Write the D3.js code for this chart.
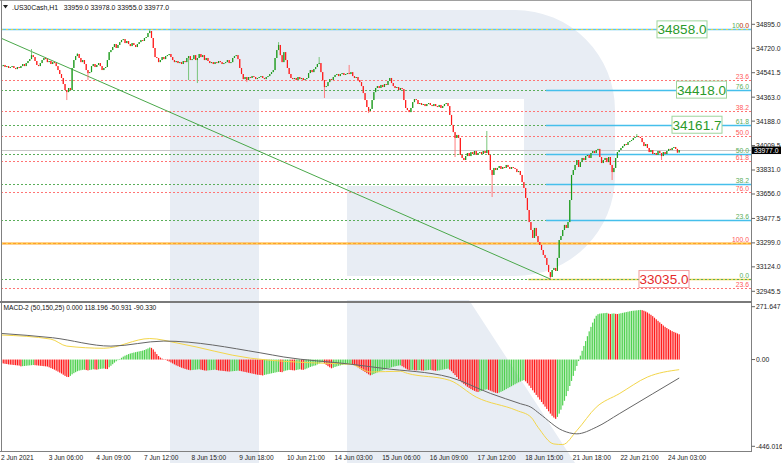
<!DOCTYPE html>
<html><head><meta charset="utf-8">
<script src="https://cdn.jsdelivr.net/npm/d3@7"></script>
<style>
html,body{margin:0;padding:0;background:#fff;}
svg{display:block;font-family:"Liberation Sans",Arial,sans-serif;}
</style></head><body>
<svg id="c" width="782" height="463"></svg>
<script>
// ---------------- DATA ----------------
const symbolTitle = ".US30Cash,H1   33959.0 33978.0 33955.0 33977.0";
const macdTitle = "MACD-2 (50,150,25) 0.000 118.196 -50.931 -90.330";
const timeLabels = ["2 Jun 2021","3 Jun 06:00","4 Jun 09:00","7 Jun 12:00","8 Jun 15:00","9 Jun 18:00",
  "10 Jun 21:00","14 Jun 03:00","15 Jun 06:00","16 Jun 09:00","17 Jun 12:00","18 Jun 15:00",
  "21 Jun 18:00","22 Jun 21:00","24 Jun 03:00"];
const barsPerLabel = 27;
const priceTicks = [34895.0,34720.0,34541.5,34363.0,34188.0,34009.5,33831.0,33656.0,33477.5,33299.0,33124.0,32945.5];
const priceRange = [32945.5, 34895.0];
const macdRange = [-446.016, 271.647];
const macdTickVals = [271.647, 0, -446.016];
const macdTickText = ["271.647", "0.00", "-446.016"];
const currentPrice = 33977.0;

const firstOpen = 34583;
const closes = [
34590,34598,34583,34590,34576,34583,34590,34576,34568,34583,
34576,34590,34605,34590,34612,34627,34641,34670,34656,34627,
34598,34590,34612,34634,34649,34641,34619,34627,34605,34619,
34612,34590,34561,34532,34503,34459,34415,34400,34430,34415,
34576,34634,34663,34678,34649,34619,34634,34605,34561,34539,
34546,34590,34605,34583,34598,34612,34590,34561,34576,34583,
34634,34692,34707,34729,34751,34722,34744,34765,34780,34787,
34758,34773,34751,34736,34758,34744,34729,34751,34765,34780,
34773,34795,34802,34831,34846,34795,34722,34656,34649,34619,
34634,34656,34641,34663,34670,34678,34656,34634,34619,34627,
34612,34619,34605,34627,34619,34649,34663,34634,34641,34670,
34634,34649,34678,34656,34670,34634,34649,34627,34612,34619,
34605,34619,34612,34627,34619,34605,34612,34619,34634,34612,
34619,34649,34663,34670,34641,34576,34532,34495,34510,34488,
34510,34503,34517,34510,34495,34503,34510,34517,34503,34495,
34510,34517,34532,34546,34561,34649,34707,34744,34670,34619,
34692,34634,34576,34532,34503,34495,34503,34488,34510,34495,
34503,34488,34495,34503,34539,34561,34546,34568,34583,34605,
34612,34546,34488,34437,34444,34473,34495,34488,34510,34525,
34532,34517,34532,34539,34525,34532,34539,34532,34546,34517,
34503,34510,34488,34473,34444,34393,34342,34291,34262,34277,
34342,34400,34430,34444,34430,34452,34437,34459,34452,34481,
34503,34466,34444,34430,34437,34415,34430,34422,34342,34284,
34269,34254,34284,34327,34349,34342,34313,34320,34306,34313,
34298,34313,34320,34306,34298,34313,34298,34291,34306,34284,
34298,34313,34320,34298,34233,34160,34108,34065,34087,34065,
33941,33919,33904,33933,33955,33933,33962,33948,33970,33941,
33955,33962,33948,33970,33955,33977,33941,33831,33795,33846,
33831,33846,33860,33839,33853,33846,33868,33853,33839,33853,
33846,33839,33816,33824,33795,33743,33700,33627,33539,33451,
33393,33335,33408,33349,33305,33284,33247,33211,33189,33138,
33086,33050,33101,33116,33094,33189,33320,33349,33393,33430,
33408,33451,33612,33795,33831,33868,33904,33853,33889,33919,
33904,33933,33941,33919,33955,33970,33955,33977,33985,33926,
33882,33904,33919,33889,33926,33868,33816,33846,33919,33962,
33977,33992,34006,34021,34014,34035,34043,34050,34065,34072,
34079,34072,34065,34035,34006,34021,33992,33962,33977,33948,
33955,33941,33970,33955,33933,33962,33948,33970,33985,33977,
33992,33999,33985,33959,33977];
// spikes: [bar, high] and [bar, low]
const wickHighs = [[17,34714],[43,34685],[84,34858],[157,34765],[180,34656],[197,34598],[275,34116],[360,34094],[383,33978]];
const wickLows = [[37,34342],[49,34488],[106,34488],[111,34466],[139,34473],[183,34357],[208,34247],[257,33926],[278,33634],[311,33035],[346,33758],[374,33904],[383,33955]];

// Fibonacci grids
const redFibLabels = ["0.0","23.6","38.2","50.0","61.8","76.0","100.0","23.6"];
const redFibPrices = [34858,34490,34262,34079,33894,33673,33299,32967];
const greenFibLabels = ["0.0","23.6","38.2","50.0","61.8","76.0","100.0"];
const greenFibPrices = [33035,33465,33731,33946.5,34161.7,34418,34858];
const priceBoxes = [{text:"34858.0",price:34858,kind:"up"},{text:"34418.0",price:34418,kind:"up"},
  {text:"34161.7",price:34161.7,kind:"up"},{text:"33035.0",price:33035,kind:"down"}];
const trendLine = [{bar:-0.85,price:34797},{bar:311,price:33035}];

// MACD histogram (one value per bar)
const macdHist = [
-18,-20,-22,-23,-25,-26,-27,-28,-29,-30,
-31,-35,-34,-33,-32,-31,-30,-29,-28,-29,
-30,-31,-32,-33,-34,-35,-36,-40,-44,-48,
-52,-57,-62,-67,-72,-78,-84,-89,-90,-84,
-76,-70,-65,-60,-57,-55,-53,-52,-54,-56,
-54,-52,-50,-51,-52,-50,-48,-47,-46,-48,
-49,-40,-32,-24,-16,-9,-3,3,9,15,
20,24,28,31,34,36,38,40,42,44,
46,49,53,57,62,60,52,40,28,18,
10,5,2,-2,-6,-10,-15,-20,-25,-30,
-34,-38,-42,-45,-48,-51,-53,-55,-54,-53,
-52,-51,-50,-52,-54,-56,-57,-56,-55,-54,
-53,-52,-54,-56,-57,-58,-59,-60,-61,-62,
-61,-60,-59,-58,-57,-58,-60,-62,-64,-66,
-68,-70,-72,-74,-76,-78,-79,-80,-82,-79,
-77,-75,-73,-71,-69,-67,-65,-63,-64,-65,
-60,-57,-55,-53,-54,-55,-56,-54,-52,-50,
-52,-53,-50,-46,-42,-38,-35,-32,-30,-25,
-20,-16,-14,-20,-27,-34,-40,-45,-42,-38,
-35,-32,-30,-28,-26,-25,-24,-23,-22,-25,
-29,-34,-40,-46,-52,-58,-64,-70,-76,-81,
-78,-74,-70,-66,-62,-58,-55,-52,-49,-46,
-43,-40,-37,-35,-33,-31,-30,-34,-40,-46,
-51,-55,-54,-53,-55,-56,-55,-54,-56,-57,
-56,-55,-54,-53,-55,-57,-58,-57,-56,-54,
-52,-50,-48,-47,-52,-60,-70,-80,-90,-100,
-110,-118,-126,-133,-140,-146,-152,-157,-161,-165,
-167,-164,-161,-158,-155,-153,-156,-160,-164,-168,
-171,-173,-170,-166,-162,-157,-152,-147,-142,-137,
-132,-127,-122,-117,-113,-109,-106,-112,-122,-134,
-146,-158,-170,-182,-194,-206,-218,-230,-242,-254,
-266,-278,-289,-298,-305,-295,-278,-258,-236,-212,
-188,-162,-136,-110,-84,-58,-33,-8,20,45,
70,95,120,145,168,190,210,225,233,236,
237,238,239,240,236,234,236,237,235,234,
236,238,240,242,244,246,248,250,251,252,
253,254,255,254,251,247,242,236,230,223,
215,207,199,191,183,175,168,162,156,151,
146,142,138,134,130];
// MACD lines, sampled [bar, value]
const macdGrayLine = [[0,134],[29,112],[62,69],[92,95],[147,34],[160,13],[198,-24],[216,-45],[254,-91],
  [277,-174],[294,-227],[300,-245],[305,-279],[318,-365],[326,-382],[337,-348],[350,-279],[369,-176],[384,-95]];
const macdYellowLine = [[0,126],[28,105],[37,69],[58,58],[84,108],[100,84],[141,7],[160,-9],[179,-18],[198,-24],
  [209,-64],[226,-60],[230,-71],[254,-107],[269,-193],[292,-262],[300,-296],[304,-348],[313,-434],[318,-437],
  [326,-365],[337,-245],[350,-176],[366,-90],[384,-52]];

// ---------------- DRAW ----------------
const svg = d3.select("#c");
const n = closes.length;
const x = d3.scaleLinear().domain([0, n-1]).range([1.5, 1.5 + 1.7648*(n-1)]);
const y = d3.scaleLinear().domain(priceRange).range([291.3, 24.3]);
const ym = d3.scaleLinear().domain(macdRange).range([446.3, 306.7]);
const L = 1, R = 751;

svg.append("rect").attr("width",782).attr("height",463).attr("fill","#fff");
const defs = svg.append("defs");
defs.append("clipPath").attr("id","cm").append("rect").attr("x",L).attr("y",1).attr("width",R-L).attr("height",300);
defs.append("clipPath").attr("id","cd").append("rect").attr("x",L).attr("y",303).attr("width",R-L).attr("height",149);

// watermark logo
const wm = svg.append("g").attr("fill","#e8edf4");
wm.append("rect").attr("x",170).attr("y",10).attr("width",89).attr("height",453);
wm.append("path").attr("d","M259,10 H515 A100,100 0 0 1 615,110 V176 A100,100 0 0 1 515,276 H347 V186 H524 V99 H259 Z");
wm.append("path").attr("d","M347,300 L469,300 L575,463 L347,463 Z");

// ---- main panel ----
const gm = svg.append("g").attr("clip-path","url(#cm)");
const hline = (g, p, color, w, dash, x0=L, x1=R) => g.append("line")
  .attr("x1",x0).attr("x2",x1).attr("y1",Math.round(y(p))+0.5).attr("y2",Math.round(y(p))+0.5)
  .attr("stroke",color).attr("stroke-width",w).attr("stroke-dasharray",dash||null);

// top 100% line (cyan + yellow dots)
hline(gm, greenFibPrices[6], "#5cc6ee", 1.6);
hline(gm, greenFibPrices[6], "#f2d33c", 1, "2,3");
// orange red-fib 100 line
hline(gm, redFibPrices[6], "#ffa126", 1.8);
hline(gm, redFibPrices[6], "#ffd84a", 1, "2,3");
// yellow segment at 0.0 level
hline(gm, greenFibPrices[0], "#f0d24a", 1.5, null, x(298.5), R);
// red fib dotted lines
redFibPrices.forEach((p,i)=>{ if(i>0 && i!==6) hline(gm, p, "#ff7474", 1, "2,2"); });
// green fib dotted lines
greenFibPrices.forEach((p,i)=>{ if(i<6) hline(gm, p, "#5aae5a", 1, "2,2"); });
// cyan rays
greenFibPrices.forEach((p,i)=>{ if(i>=1 && i<=5) hline(gm, p, "#45bfeb", 1.6, null, x(308.5), R); });
// current price line
hline(gm, currentPrice, "#c8c8c8", 1);

// trend line
gm.append("line").attr("x1",x(trendLine[0].bar)).attr("y1",y(trendLine[0].price))
  .attr("x2",x(trendLine[1].bar)).attr("y2",y(trendLine[1].price))
  .attr("stroke","#4aa84a").attr("stroke-width",1);

// candles
const hiMap = new Map(wickHighs), loMap = new Map(wickLows);
const candles = closes.map((c,i)=>{
  const o = i===0 ? firstOpen : closes[i-1];
  const h = Math.max(o,c, hiMap.has(i)?hiMap.get(i):-Infinity);
  const l = Math.min(o,c, loMap.has(i)?loMap.get(i):Infinity);
  return {i,o,h,l,c};
});
const cg = gm.append("g");
cg.selectAll("line.w").data(candles).join("line").attr("class","w")
  .attr("x1",d=>x(d.i)).attr("x2",d=>x(d.i)).attr("y1",d=>y(d.h)).attr("y2",d=>y(d.l))
  .attr("stroke",d=>d.c>=d.o?"#6cc06c":"#ff7070").attr("stroke-width",0.9);
cg.selectAll("rect.b").data(candles).join("rect").attr("class","b")
  .attr("x",d=>x(d.i)-0.6).attr("width",1.2)
  .attr("y",d=>y(Math.max(d.o,d.c)))
  .attr("height",d=>Math.max(1, Math.abs(y(d.o)-y(d.c))))
  .attr("fill",d=>d.c>=d.o?"#1c9a1c":"#ff1a1a");

// fib labels
const fl = svg.append("g").attr("font-size","6.8px").attr("text-anchor","end");
greenFibPrices.forEach((p,i)=>{
  fl.append("text").attr("x",749).attr("y",y(p)-1).attr("fill","#5aae5a").text(greenFibLabels[i]);
});
redFibPrices.forEach((p,i)=>{
  fl.append("text").attr("x",749).attr("y",y(p)-1).attr("fill","#ff5a5a").text(redFibLabels[i]);
});

// price boxes
const boxCx = [682, 701.5, 697, 664];
priceBoxes.forEach((b,i)=>{
  const g = svg.append("g");
  const up = b.kind==="up";
  g.append("rect").attr("x",boxCx[i]-25).attr("y",y(b.price)-8.5).attr("width",50).attr("height",17)
    .attr("fill","#fff").attr("stroke",up?"#9ed59e":"#f29a9a").attr("stroke-width",1);
  g.append("text").attr("x",boxCx[i]).attr("y",y(b.price)+5).attr("text-anchor","middle")
    .attr("font-size","13.5px").attr("fill",up?"#2a9a2a":"#e52a2a").text(b.text);
});

// ---- MACD panel ----
const gd = svg.append("g").attr("clip-path","url(#cd)");
gd.selectAll("rect").data(macdHist).join("rect")
  .attr("x",(d,i)=>x(i)-0.6).attr("width",1.2)
  .attr("y",d=>Math.min(ym(0),ym(d))).attr("height",d=>Math.abs(ym(d)-ym(0)))
  .attr("fill",(d,i)=> (i>0 && d>macdHist[i-1]) ? "#4fd14f" : "#ff1c1c");
const ln = d3.line().x(d=>x(d[0])).y(d=>ym(d[1])).curve(d3.curveMonotoneX);
gd.append("path").attr("d",ln(macdYellowLine)).attr("fill","none").attr("stroke","#f3d64a").attr("stroke-width",1);
gd.append("path").attr("d",ln(macdGrayLine)).attr("fill","none").attr("stroke","#666").attr("stroke-width",1);

// ---- frames ----
const fr = svg.append("g").attr("stroke","#808080").attr("fill","none");
fr.append("line").attr("x1",0).attr("x2",R+0.5).attr("y1",0.5).attr("y2",0.5).attr("stroke","#a0a0a0");
fr.append("line").attr("x1",1.5).attr("x2",1.5).attr("y1",0).attr("y2",452);
fr.append("line").attr("x1",R+0.5).attr("x2",R+0.5).attr("y1",0).attr("y2",452);
fr.append("line").attr("x1",0).attr("x2",R+0.5).attr("y1",302).attr("y2",302).attr("stroke-width",2.2).attr("stroke","#7a7a7a");
fr.append("line").attr("x1",0).attr("x2",R+0.5).attr("y1",451.5).attr("y2",451.5);

// ---- titles ----
svg.append("path").attr("d","M3,5 L8,5 L5.5,8.5 Z").attr("fill","#222");
svg.append("text").attr("x",12).attr("y",9.5).attr("font-size","6.9px").attr("fill","#111").attr("xml:space","preserve").text(symbolTitle);
svg.append("text").attr("x",3.5).attr("y",309.5).attr("font-size","6.6px").attr("fill","#111").text(macdTitle);

// ---- right price axis ----
const ra = svg.append("g").attr("font-size","6.8px").attr("fill","#222");
priceTicks.forEach(p=>{
  ra.append("line").attr("x1",R+0.5).attr("x2",R+4).attr("y1",y(p)).attr("y2",y(p)).attr("stroke","#666");
  ra.append("text").attr("x",756).attr("y",y(p)+2.4).text(p.toFixed(1));
});
svg.append("rect").attr("x",752).attr("y",y(currentPrice)-3.5).attr("width",29).attr("height",7.5).attr("fill","#000");
svg.append("text").attr("x",754).attr("y",y(currentPrice)+2.6).attr("font-size","6.8px").attr("fill","#fff").text(currentPrice.toFixed(1));
macdTickVals.forEach((v,i)=>{
  ra.append("line").attr("x1",R+0.5).attr("x2",R+4).attr("y1",ym(v)).attr("y2",ym(v)).attr("stroke","#666");
  ra.append("text").attr("x",756).attr("y",ym(v)+2.4).text(macdTickText[i]);
});

// ---- time axis ----
const ta = svg.append("g").attr("font-size","6.6px").attr("fill","#222");
timeLabels.forEach((t,k)=>{
  ta.append("text").attr("x",x(k*barsPerLabel)-0.5).attr("y",459.5).text(t);
});
</script>
</body></html>
